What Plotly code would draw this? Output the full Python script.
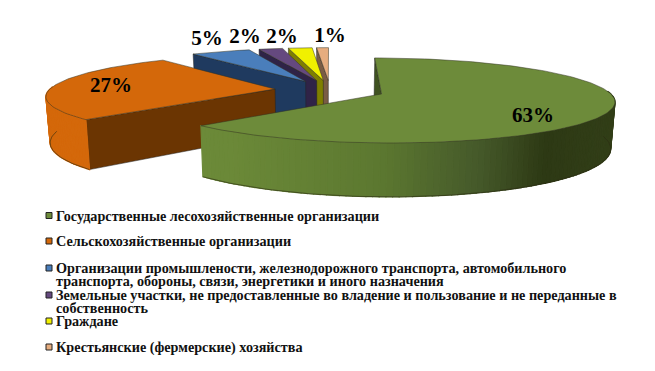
import math
import plotly.graph_objects as go

# ---- data ----
categories = [
    "Государственные лесохозяйственные организации",
    "Сельскохозяйственные организации",
    "Организации промышлености, железнодорожного транспорта, автомобильного",
    "Земельные участки, не предоставленные во владение и пользование и не переданные в",
    "Граждане",
    "Крестьянские (фермерские) хозяйства",
]
continuation = [None, None,
                "транспорта, обороны, связи, энергетики и иного назначения",
                "собственность", None, None]
values = [63, 27, 5, 2, 2, 1]
labels = ["63%", "27%", "5%", "2%", "2%", "1%"]

# ---- style ----
top_colors = ["#6d8b3a", "#d4680a", "#4a7ebb", "#65497f", "#f0f000", "#e6ad7f"]
side_colors = ["#3f5220", "#6b3502", "#1f3a5f", "#2f2347", "#7f7f00", "#7a5c44"]
rim_colors = [None, "#d4680a", "#1f3a5f", "#2f2347", "#7f7f00", "#7a5c44"]
label_pos = [(533, 117), (111, 87), (207, 40), (245, 38), (282, 38), (330, 37)]
legend_y = [215.5, 241, 268, 295, 321, 347]
FONT = "Liberation Serif"
EXPLODE = 0.245
CX, RX, VY, KY, P, DEPTH, SHRINK = 330, 226, -179, 269, 0.15, 45, 0.985


def project(X, Y, low=False):
    f = 1 / (1 + P * Y)
    sx = CX + RX * X * f
    sy = VY + KY * f
    if low:
        sx = CX + (sx - CX) * SHRINK
        sy += DEPTH * f
    return sx, sy


def lerp_hex(a, b, t):
    ca = [int(a[i:i + 2], 16) for i in (1, 3, 5)]
    cb = [int(b[i:i + 2], 16) for i in (1, 3, 5)]
    return "rgb(%d,%d,%d)" % tuple(round(x + (y - x) * t) for x, y in zip(ca, cb))


GREEN_STOPS = [(150, "#6d8b3a"), (230, "#6b8938"), (380, "#5c7830"), (480, "#45592a"),
               (545, "#2d3914"), (660, "#35421a")]


def green_rim(x):
    for (x0, c0), (x1, c1) in zip(GREEN_STOPS, GREEN_STOPS[1:]):
        if x <= x1:
            return lerp_hex(c0, c1, max(0, (x - x0) / (x1 - x0)))
    return GREEN_STOPS[-1][1]


fig = go.Figure()


def poly(pts, fill, line=None, width=0.6):
    xs = [p[0] for p in pts] + [pts[0][0]]
    ys = [p[1] for p in pts] + [pts[0][1]]
    fig.add_trace(go.Scatter(x=xs, y=ys, mode="lines", fill="toself", fillcolor=fill,
                             line=dict(color=line or fill, width=width),
                             hoverinfo="skip", showlegend=False))


total = sum(values)
spans = []
acc = 0
for v in values:
    spans.append((acc / total * 2 * math.pi, (acc + v) / total * 2 * math.pi))
    acc += v

for i in reversed(range(len(values))):
    a0, a1 = spans[i]
    mid = (a0 + a1) / 2
    ox, oy = EXPLODE * math.sin(mid), EXPLODE * math.cos(mid)
    n = max(6, int((a1 - a0) * 40))
    ang = [a0 + (a1 - a0) * k / n for k in range(n + 1)]
    rimpts = [(ox + math.sin(t), oy + math.cos(t)) for t in ang]
    # start face
    s = rimpts[0]
    poly([project(ox, oy), project(*s), project(*s, low=True), project(ox, oy, low=True)],
         side_colors[i], "#222222", 0.5)
    # only the camera-facing part of the rim is drawn
    facing = [k for k, t in enumerate(ang) if math.radians(86) <= t <= math.radians(274)]
    for k0, k1 in zip(facing, facing[1:]):
        p, q = rimpts[k0], rimpts[k1]
        pa, pb = project(*p), project(*q)
        col = rim_colors[i] or green_rim((pa[0] + pb[0]) / 2)
        poly([pa, pb, project(*q, low=True), project(*p, low=True)], col, col, 1.2)
    if facing:
        low = [project(*rimpts[k], low=True) for k in facing]
        fig.add_trace(go.Scatter(x=[p[0] for p in low], y=[p[1] for p in low], mode="lines",
                                 line=dict(color="#2a2a10", width=0.6), hoverinfo="skip",
                                 showlegend=False))
    # top
    poly([project(ox, oy)] + [project(*p) for p in rimpts], top_colors[i], "#333322", 0.5)

# percentage labels
fig.add_trace(go.Scatter(x=[p[0] for p in label_pos], y=[p[1] for p in label_pos], mode="text",
                         text=["<b>%s</b>" % t for t in labels], textposition="middle center",
                         textfont=dict(family=FONT, size=21, color="#000000"),
                         hoverinfo="skip", showlegend=False))

# legend
fig.add_trace(go.Scatter(x=[49] * len(categories), y=legend_y, mode="markers",
                         marker=dict(symbol="square", size=6, color=top_colors,
                                     line=dict(color="#222222", width=1)),
                         hoverinfo="skip", showlegend=False))
for i, name in enumerate(categories):
    fig.add_annotation(x=54, y=legend_y[i], text="<b>%s</b>" % name, showarrow=False,
                       xanchor="left", yanchor="middle", xref="x", yref="y",
                       font=dict(family=FONT, size=14.2, color="#111111"))
    if continuation[i]:
        fig.add_annotation(x=53.5, y=legend_y[i] + 13, text="<b>%s</b>" % continuation[i],
                           showarrow=False, xanchor="left", yanchor="middle", xref="x", yref="y",
                           font=dict(family=FONT, size=14.2, color="#111111"))

fig.update_layout(
    width=655, height=371, margin=dict(l=0, r=0, t=0, b=0),
    paper_bgcolor="white", plot_bgcolor="white", showlegend=False,
    xaxis=dict(range=[0, 655], visible=False, fixedrange=True),
    yaxis=dict(range=[371, 0], visible=False, fixedrange=True),
)
fig.write_html("out.html", config=dict(displayModeBar=False),
               post_script="document.body.style.margin='0';")
